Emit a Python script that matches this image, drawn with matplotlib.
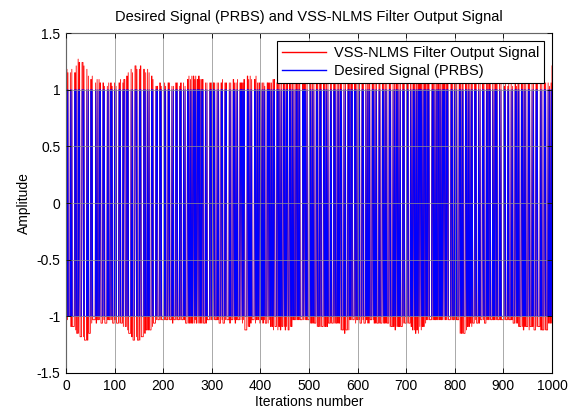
import numpy as np
import matplotlib
matplotlib.use("Agg")
import matplotlib.pyplot as plt

# ---------------- Data -------------------------------------------------
# Each token "RO": R = run length of the PRBS level (samples),
# O = overshoot of the filter output on that run, in steps of 0.03.
# Runs alternate +1 / -1, starting at +1.
runs_peaks = [
    # samples 0-99
    "26 11 15 40 15 23 16 53 25 14 17 35 19 15 28 46 38 16 17 57 16 27 14 45 "
    "23 12 14 61 12 22 13 31 13 11 22 42 22 11 11 52 11 21 12 31 22 11 11 42",
    # 99-202
    "12 21 11 52 22 12 13 42 12 13 33 33 24 14 15 55 16 26 15 47 37 16 16 47 "
    "16 17 27 56 26 25 15 34 16 24 15 44 24 13 13 52 11 11 21 41 22 11 11 61",
    # 202-302
    "12 11 11 41 22 11 12 41 11 22 11 41 22 11 12 41 11 11 22 41 12 21 11 42 "
    "23 12 14 22 13 22 14 22 24 12 13 11 14 22 23 12 24 12 13 22 13 12 23 42 "
    "12 22 12 51 22 11 12 31",
    # 302-400
    "22 11 12 41 12 21 12 42 22 11 13 42 12 11 22 51 12 22 12 41 23 11 12 22 "
    "12 21 13 41 22 11 22 12 12 11 23 54 24 13 13 23 14 22 13 51 23 12 14 21 "
    "12 21 22 22",
    # 400-500
    "12 21 12 22 12 11 11 42 22 12 22 11 12 23 12 23 13 14 23 43 22 14 13 23 "
    "12 24 12 33 22 13 12 24 13 13 22 34 22 13 13 23 12 21 13 31 22 11 13 21 "
    "12 11 12 51 23 11 22 11 12 21 13 41",
    # 500-600
    "22 12 12 22 13 22 12 42 23 13 12 33 12 13 23 43 22 13 13 23 12 23 12 42 "
    "12 12 12 42 23 12 12 32 12 22 13 22 23 14 12 44 12 25 13 44 22 14 12 21 "
    "13 11 22 41 22 12 12 31",
    # 600-700
    "12 21 12 42 22 11 13 42 12 21 12 22 13 12 12 41 22 11 13 22 12 22 13 42 "
    "12 12 12 42 23 12 12 22 13 22 12 42 22 13 12 43 13 23 12 24 22 13 12 23 "
    "13 23 12 43 22 12 13 42",
    # 700-800
    "12 12 22 42 12 23 12 24 22 14 12 25 12 24 13 15 22 13 22 14 12 23 12 23 "
    "22 12 12 21 12 11 22 51 22 11 12 21 12 21 12 21 22 11 12 21 12 21 12 11 "
    "22 11 22 21 12 11 22 51 22 11 12 31 12 11",
    # 800-900
    "12 21 12 41 22 15 12 25 12 15 12 45 22 14 12 23 12 23 12 22 12 13 12 42 "
    "23 11 13 42 12 22 13 41 23 11 12 42 12 11 13 21 22 11 12 41 12 21 12 21 "
    "22 11 12 41 12 21 12 51",
    # 900-1000
    "21 11 12 41 11 11 12 41 12 21 11 42 22 12 11 22 12 13 12 43 22 13 12 24 "
    "12 23 12 43 22 14 12 43 12 23 12 44 22 13 12 53 12 24 12 44 22 14 12 44 "
    "12 22 11 22 12 12 17",
]
OVERSHOOT_STEP = 0.03

series_labels = ["VSS-NLMS Filter Output Signal", "Desired Signal (PRBS)"]
series_colors = ["#ff0000", "#0000ff"]
x_ticks = list(range(0, 1001, 100))
y_ticks = [-1.5, -1, -0.5, 0, 0.5, 1, 1.5]
y_tick_labels = ["-1.5", "-1", "-0.5", "0", "0.5", "1", "1.5"]

# ---------------- Build the series ------------------------------------
tokens = " ".join(runs_peaks).split()
run_lengths = np.array([int(t[0]) for t in tokens])
peak_codes = np.array([int(t[1]) for t in tokens])
levels = np.where(np.arange(len(tokens)) % 2 == 0, 1.0, -1.0)

desired = np.repeat(levels, run_lengths)
output = np.repeat(levels * (1.0 + OVERSHOOT_STEP * peak_codes), run_lengths)
n = np.arange(1, len(desired) + 1)

# ---------------- Figure ----------------------------------------------
plt.rcParams["font.family"] = ["Liberation Sans", "DejaVu Sans"]

fig = plt.figure(figsize=(5.72, 4.12), dpi=100)
ax = fig.add_axes([66 / 572, 1 - 373 / 412, (552 - 66) / 572, (373 - 33) / 412])

ax.plot(n, output, color=series_colors[0], lw=0.6, label=series_labels[0])
ax.plot(n, desired, color=series_colors[1], lw=0.6, label=series_labels[1])

ax.set_xlim(0, 1000)
ax.set_ylim(-1.5, 1.5)
ax.set_xticks(x_ticks)
ax.set_yticks(y_ticks)
ax.set_yticklabels(y_tick_labels)
ax.tick_params(direction="in", top=True, right=True, length=3.5, width=0.6,
               labelsize=10, pad=4)
for sp in ax.spines.values():
    sp.set_linewidth(0.8)

ax.set_axisbelow(False)
ax.grid(True, color="0.55", lw=0.7, alpha=0.75)

ax.set_title("Desired Signal (PRBS) and VSS-NLMS Filter Output Signal",
             fontsize=10.5, pad=9)
ax.set_xlabel("Iterations number", fontsize=10, labelpad=2)
ax.set_ylabel("Amplitude", fontsize=10, labelpad=4)

leg = ax.legend(loc="upper right", bbox_to_anchor=(1, 1), borderaxespad=0.55,
                fontsize=10.5, fancybox=False, framealpha=1, edgecolor="black",
                handlelength=3.0, handletextpad=0.5, labelspacing=0.25,
                borderpad=0.35)
leg.get_frame().set_linewidth(0.8)
for h in leg.get_lines():
    h.set_linewidth(1.0)

fig.savefig("out.png", dpi=100)
